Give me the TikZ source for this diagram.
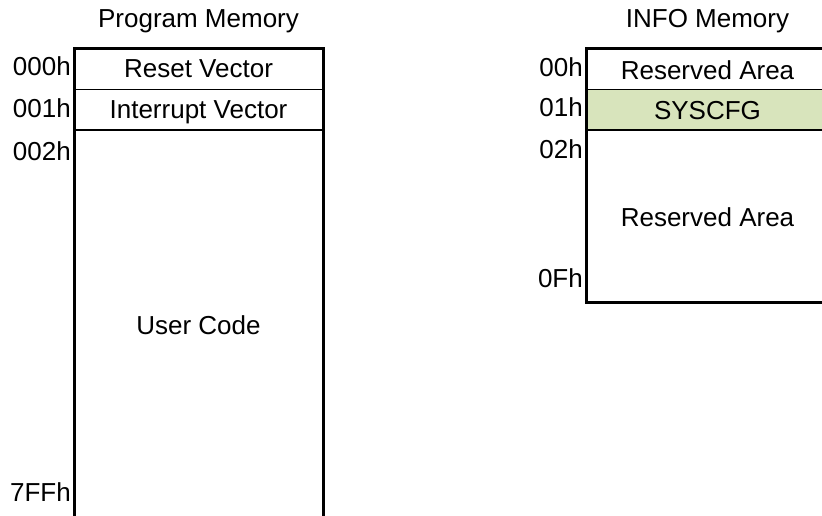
\documentclass[tikz,border=0pt]{standalone}
\usepackage{fontspec}
\setmainfont{Liberation Sans}
\definecolor{cfggreen}{RGB}{216,228,188}
\begin{document}
\begin{tikzpicture}[x=1pt,y=-1pt,
  txt/.style={inner sep=0pt,text height=18.5pt,text depth=0pt,font=\fontsize{26}{30}\selectfont},
  addr/.style={txt,anchor=east},
  outer/.style={line width=3pt},
  divider/.style={line width=1.6pt}]
\useasboundingbox (0,0) rectangle (822,515);
\clip (0,0) rectangle (822,515);

% program memory map
\coordinate (pmTL) at (74.5,48);
\coordinate (pmTR) at (323,48);
\coordinate (pmBL) at (74.5,520);
\coordinate (pmBR) at (323,520);
\draw[divider] (74.5,89.5) -- (323,89.5);
\draw[divider] (74.5,130) -- (323,130);
\draw[outer] (pmBL) -- (pmTL) -- (pmTR) -- (pmBR);

\node[txt] (pmtitle) at (198.5,18) {Program Memory};
\node[txt] (reset) at (198.5,68) {Reset Vector};
\node[txt] (irq) at (198.5,109) {Interrupt Vector};
\node[txt] (user) at (198.5,325) {User Code};

\node[addr] (a000) at (71,66) {000h};
\node[addr] (a001) at (71,108) {001h};
\node[addr] (a002) at (71,151) {002h};
\node[addr] (a7ff) at (71,492) {7FFh};

% INFO memory map
\fill[cfggreen] (586,89.5) rectangle (830,130);
\draw[divider] (586,89.5) -- (830,89.5);
\draw[divider] (586,130) -- (830,130);
\coordinate (imTL) at (586.5,48);
\coordinate (imTR) at (830,48);
\coordinate (imBL) at (586.5,302);
\coordinate (imBR) at (830,302);
\draw[outer] (imTR) -- (imTL) -- (imBL) -- (imBR);

\node[txt] (infotitle) at (707.5,18) {INFO Memory};
\node[txt] (res1) at (707.5,70) {Reserved Area};
\node[txt] (syscfg) at (707.5,110) {SYSCFG};
\node[txt] (res2) at (707.5,217) {Reserved Area};

\node[addr] (b00) at (583,67) {00h};
\node[addr] (b01) at (583,107) {01h};
\node[addr] (b02) at (583,149) {02h};
\node[addr] (b0f) at (583,278) {0Fh};
\end{tikzpicture}
\end{document}
